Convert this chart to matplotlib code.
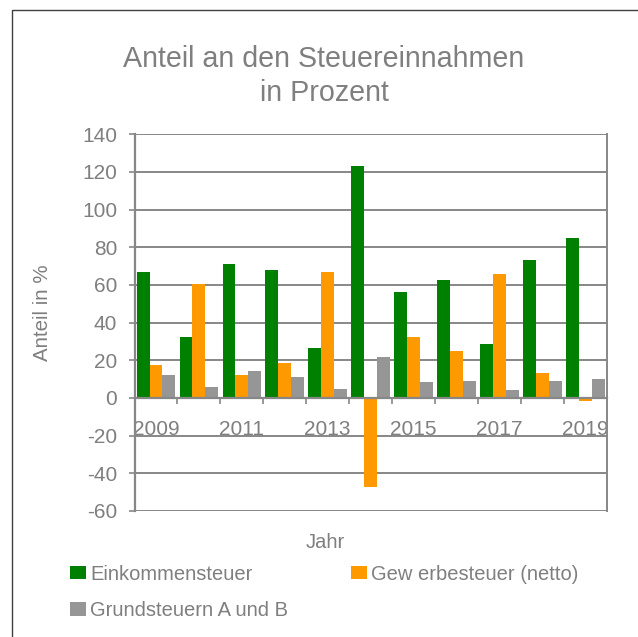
import matplotlib
matplotlib.use("Agg")
import matplotlib.pyplot as plt
from matplotlib.patches import Rectangle
import numpy as np

years = ["2009", "2010", "2011", "2012", "2013", "2014", "2015", "2016", "2017", "2018", "2019"]
einkommen = [66.7, 32.6, 71.0, 67.8, 26.3, 123.1, 56.1, 62.5, 28.4, 73.1, 84.8]
gewerbe = [17.7, 60.3, 12.4, 18.8, 66.7, -47.5, 32.6, 25.2, 65.6, 13.5, -1.8]
grund = [12.4, 6.0, 14.5, 11.4, 5.0, 22.0, 8.7, 9.2, 4.4, 9.2, 10.3]
series_names = ["Einkommensteuer", "Gew erbesteuer (netto)", "Grundsteuern A und B"]
colors = ["#008000", "#FF9900", "#969696"]
yticks = [-60, -40, -20, 0, 20, 40, 60, 80, 100, 120, 140]

plt.rcParams['font.family'] = ['Liberation Sans', 'DejaVu Sans']
TXT = "#7f7f7f"
GRID = "#878787"

W, H = 638, 637
fig = plt.figure(figsize=(W / 100, H / 100), dpi=100)
L, R, T, B = 134.5, 606.7, 134.3, 511.0
ax = fig.add_axes([L / W, 1 - B / H, (R - L) / W, (B - T) / H])

x = np.arange(len(years))
bw = 0.3
bars = []
for i, (vals, c) in enumerate(zip([einkommen, gewerbe, grund], colors)):
    b = ax.bar(x + (i - 1) * bw, vals, width=bw, color=c, label=series_names[i], zorder=3)
    bars.append(b)

ax.set_xlim(-0.5, len(years) - 0.5)
ax.set_ylim(-60, 140)
ax.set_yticks(yticks)
ax.set_yticklabels([str(v) for v in yticks], fontsize=15, color=TXT)
ax.yaxis.grid(True, color=GRID, linewidth=1.4, zorder=1)
ax.set_axisbelow(True)

ax.spines['top'].set_visible(False)
ax.spines['right'].set_color(GRID)
ax.spines['right'].set_linewidth(1.4)
ax.spines['left'].set_color(GRID)
ax.spines['left'].set_linewidth(1.6)
ax.spines['bottom'].set_position(('data', 0))
ax.spines['bottom'].set_color(GRID)
ax.spines['bottom'].set_linewidth(1.6)
ax.spines['bottom'].set_zorder(4)

ax.tick_params(axis='y', direction='out', length=4.5, width=1.2, color=GRID, pad=8)
ax.set_xticks(x[::2])
ax.set_xticklabels(years[::2], fontsize=15, color=TXT)
ax.tick_params(axis='x', which='major', length=0, pad=16)
ax.set_xticks(np.arange(0.5, len(years) - 0.5, 1), minor=True)
ax.tick_params(axis='x', which='minor', direction='out', length=4, width=1.2, color=GRID)

fig.text(324 / W, 1 - 76 / H, "Anteil an den Steuereinnahmen\nin Prozent", ha='center', va='center',
         fontsize=20.6, color=TXT, linespacing=1.3)
fig.text(42 / W, 1 - 313 / H, "Anteil in %", rotation=90, ha='center', va='center', fontsize=14.8, color=TXT)
fig.text(325 / W, 1 - 543 / H, "Jahr", ha='center', va='center', fontsize=14.5, color=TXT)

# legend filled column-wise: order so rows read Einkommen | Gewerbe, Grund
order = [0, 2, 1]
leg = fig.legend(handles=[bars[i] for i in order], labels=[series_names[i] for i in order], ncol=2,
                 loc='upper left', bbox_to_anchor=(70 / W, 1 - 564.5 / H), frameon=False, fontsize=14.5,
                 handlelength=0.8, handleheight=0.65, handletextpad=0.2, columnspacing=3.1,
                 labelspacing=0.88, borderpad=0, borderaxespad=0)
for t in leg.get_texts():
    t.set_color(TXT)

fig.add_artist(Rectangle((11.5 / W, -0.1), 2, (1 - 9.5 / H) + 0.1, transform=fig.transFigure,
                         fill=False, edgecolor="#404040", linewidth=1.0))

fig.savefig("out.png", dpi=100)
